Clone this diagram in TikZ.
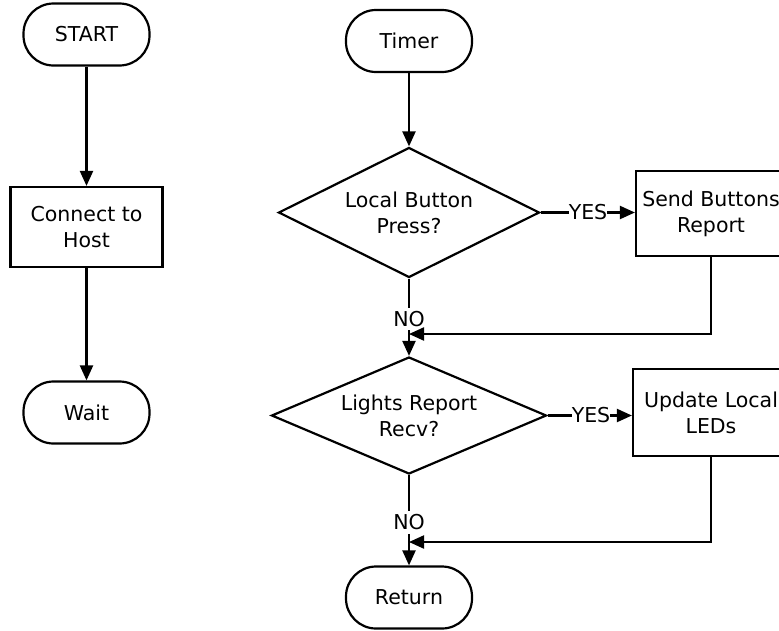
\documentclass[tikz,border=0pt]{standalone}
\usepackage{fontspec}
\setmainfont{DejaVu Sans}
\usetikzlibrary{shapes.geometric,arrows.meta}
\begin{document}
\begin{tikzpicture}[x=1pt,y=-1pt, line width=2.2pt,
  every node/.style={font=\fontsize{20.5}{26}\selectfont, align=center},
  term/.style={draw, rectangle, rounded corners=30pt, minimum width=126pt, minimum height=62pt, inner sep=0pt},
  proc/.style={draw, rectangle, inner sep=0pt},
  decision/.style={draw, diamond, inner sep=0pt, aspect=2.2},
  lbl/.style={inner xsep=0pt, inner ysep=4pt, outer sep=0pt, text height=14.6pt, text depth=0pt},
  arr/.style={-{Triangle[length=15pt,width=13pt]}}]
\path[use as bounding box, clip] (0,0) rectangle (779,630);

% left column
\node[term] (start) at (86.5,34.5) {START};
\node[proc, minimum width=152pt, minimum height=80pt] (conn) at (86.5,227) {Connect to\\Host};
\node[term] (wait) at (86.5,412.5) {Wait};
\draw[arr] (start) -- (conn);
\draw[arr] (conn) -- (wait);

% right column
\node[term] (timer) at (409,41) {Timer};
\node[decision, minimum width=261pt, minimum height=130pt] (d1) at (409,212.5) {Local Button\\Press?};
\node[proc, minimum width=150pt, minimum height=85pt] (b1) at (711,213.5) {Send Buttons\\Report};
\node[decision, minimum width=275pt, minimum height=117pt] (d2) at (409,415.5) {Lights Report\\Recv?};
\node[proc, minimum width=156pt, minimum height=87pt] (b2) at (711,412.5) {Update Local\\LEDs};
\node[term] (ret) at (409,597.5) {Return};

\node[lbl] (yes1) at (588,212.5) {YES};
\node[lbl] (yes2) at (591,415.5) {YES};
\node[lbl] (no1) at (409,319) {NO};
\node[lbl] (no2) at (409,522.5) {NO};
\coordinate (j1) at (409,334);
\coordinate (j2) at (409,542);

\draw[arr] (timer) -- (d1);
\draw (d1.east) -- (yes1.west);
\draw[arr] (yes1.east) -- (yes1.east -| b1.west);
\draw (d1.south) -- (no1.north);
\draw[arr] (no1.south) -- (d2.north);
\draw[arr] (b1.south) |- (j1);

\draw (d2.east) -- (yes2.west);
\draw[arr] (yes2.east) -- (yes2.east -| b2.west);
\draw (d2.south) -- (no2.north);
\draw[arr] (no2.south) -- (ret.north);
\draw[arr] (b2.south) |- (j2);
\end{tikzpicture}
\end{document}
